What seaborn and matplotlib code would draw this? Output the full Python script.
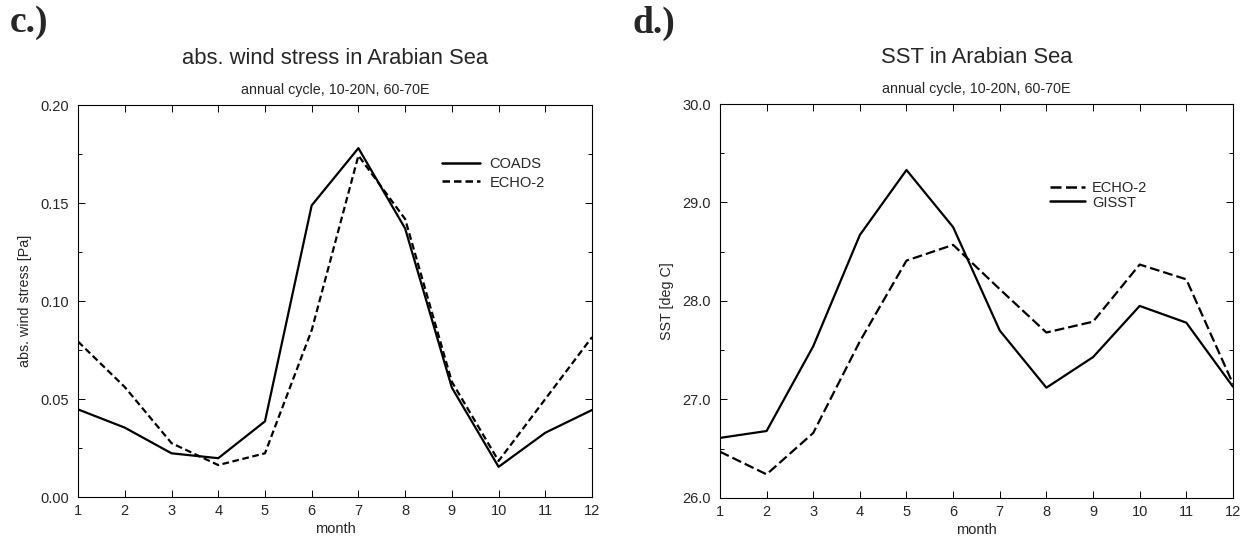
import numpy as np
import pandas as pd
import matplotlib
matplotlib.use("Agg")
import matplotlib.pyplot as plt
from matplotlib.ticker import MultipleLocator, FormatStrFormatter
import seaborn as sns

months = list(range(1, 13))

# absolute wind stress [Pa], 10-20N / 60-70E
tau_coads = [0.0447, 0.0354, 0.0223, 0.0198, 0.0386, 0.1488,
             0.1780, 0.1370, 0.0558, 0.0154, 0.0328, 0.0444]
tau_echo2 = [0.0793, 0.0561, 0.0275, 0.0163, 0.0223, 0.0851,
             0.1742, 0.1418, 0.0588, 0.0184, 0.0500, 0.0816]

# sea surface temperature [deg C]
sst_echo2 = [26.47, 26.24, 26.66, 27.59, 28.41, 28.57,
             28.12, 27.68, 27.79, 28.37, 28.22, 27.16]
sst_gisst = [26.61, 26.68, 27.54, 28.67, 29.33, 28.75,
             27.70, 27.12, 27.43, 27.95, 27.78, 27.13]

sns.set_theme(style="ticks")
plt.rcParams["font.family"] = ["Liberation Sans", "DejaVu Sans"]
plt.rcParams["axes.linewidth"] = 0.8

fig = plt.figure(figsize=(12.43, 5.40), dpi=100)
ax1 = fig.add_axes([0.0628, 0.0796, 0.4135, 0.7259])
ax2 = fig.add_axes([0.5792, 0.0778, 0.4127, 0.7296])

df_tau = pd.DataFrame({"month": months * 2,
                       "value": tau_coads + tau_echo2,
                       "source": ["COADS"] * 12 + ["ECHO-2"] * 12})
df_sst = pd.DataFrame({"month": months * 2,
                       "value": sst_echo2 + sst_gisst,
                       "source": ["ECHO-2"] * 12 + ["GISST"] * 12})

sns.lineplot(data=df_tau, x="month", y="value", hue="source", style="source",
             palette={"COADS": "black", "ECHO-2": "black"},
             dashes={"COADS": (None, None), "ECHO-2": (3.0, 1.6)},
             linewidth=1.6, ax=ax1)
sns.lineplot(data=df_sst, x="month", y="value", hue="source", style="source",
             palette={"ECHO-2": "black", "GISST": "black"},
             dashes={"ECHO-2": (4.4, 1.8), "GISST": (None, None)},
             linewidth=1.6, ax=ax2)


def style_axes(ax, ylim, major, minor, fmt, ylabel, title):
    ax.set_xlim(1, 12)
    ax.set_ylim(*ylim)
    ax.set_xticks(months)
    ax.yaxis.set_major_locator(MultipleLocator(major))
    ax.yaxis.set_minor_locator(MultipleLocator(minor))
    ax.yaxis.set_major_formatter(FormatStrFormatter(fmt))
    ax.tick_params(which="both", direction="in", top=True, right=True,
                   labelsize=10.5, color="black", width=0.7)
    ax.tick_params(axis="y", pad=6.5)
    ax.tick_params(axis="x", pad=5)
    ax.tick_params(which="major", length=5)
    ax.tick_params(which="minor", length=3)
    ax.tick_params(axis="x", which="minor", bottom=False, top=False)
    for s in ax.spines.values():
        s.set_visible(True)
        s.set_color("black")
    ax.set_xlabel("month", fontsize=10.5, labelpad=3)
    ax.set_ylabel(ylabel, fontsize=10.3, labelpad=6)
    ax.text(0.5, 1.118, title, transform=ax.transAxes, ha="center",
            va="center", fontsize=15.8)
    ax.text(0.5, 1.038, "annual cycle, 10-20N, 60-70E", transform=ax.transAxes,
            ha="center", va="center", fontsize=10.3)


style_axes(ax1, (0.0, 0.2), 0.05, 0.025, "%.2f", "abs. wind stress [Pa]",
           "abs. wind stress in Arabian Sea")
style_axes(ax2, (26.0, 30.0), 1.0, 0.5, "%.1f", "SST [deg C]",
           "SST in Arabian Sea")

leg1 = ax1.legend(loc="upper left", bbox_to_anchor=(0.708, 0.867), frameon=False,
                  fontsize=10.5, handlelength=2.6, handletextpad=0.65,
                  labelspacing=0.3, borderaxespad=0, borderpad=0)
leg2 = ax2.legend(loc="upper left", bbox_to_anchor=(0.643, 0.805), frameon=False,
                  fontsize=10.5, handlelength=2.4, handletextpad=0.5,
                  labelspacing=0.05, borderaxespad=0, borderpad=0)
for leg in (leg1, leg2):
    leg.set_title(None)
    for ln in leg.get_lines():
        ln.set_linewidth(1.8)

fig.text(0.008, 0.99, "c.)", ha="left", va="top", fontsize=27,
         fontweight="bold", family=["Liberation Serif", "DejaVu Serif"])
fig.text(0.509, 0.99, "d.)", ha="left", va="top", fontsize=27,
         fontweight="bold", family=["Liberation Serif", "DejaVu Serif"])

fig.savefig("out.png", dpi=100, facecolor="white")
